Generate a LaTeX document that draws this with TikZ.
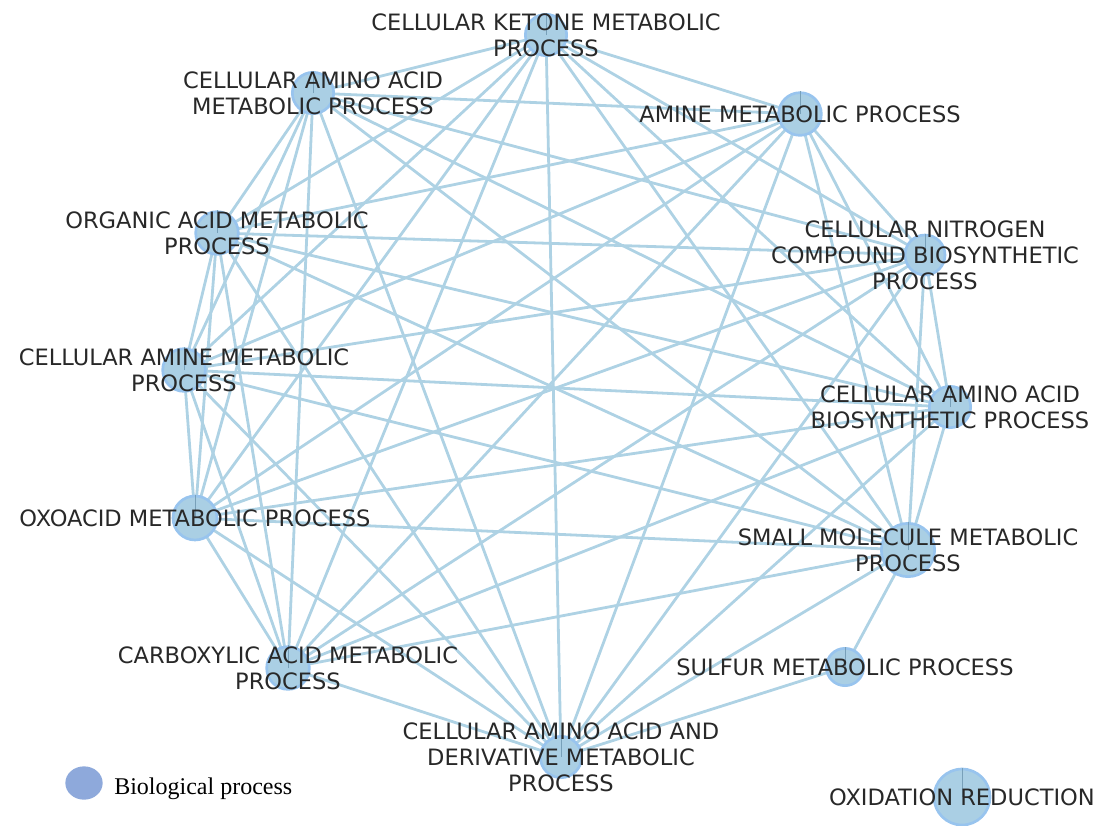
\documentclass[tikz,border=0pt]{standalone}
\usepackage{fontspec}
\setmainfont{DejaVu Sans}
\newfontfamily\legendfont{Liberation Serif}
\usetikzlibrary{shapes.geometric}
\definecolor{edgeblue}{RGB}{174,210,228}
\definecolor{nodefill}{RGB}{170,207,228}
\definecolor{noderim}{RGB}{152,196,238}
\definecolor{wedgeline}{RGB}{120,160,185}
\definecolor{labelgray}{RGB}{40,40,40}
\definecolor{legendblue}{RGB}{142,169,219}
\begin{document}
\begin{tikzpicture}[x=0.75pt,y=-0.75pt,
  edge/.style={draw=edgeblue, line width=2.1pt},
  term/.style={circle, fill=nodefill, draw=noderim, line width=2pt, inner sep=0pt, minimum size=#1},
  term/.default=31pt,
  wedge/.style={draw=wedgeline, line width=0.4pt},
  lbl/.style={align=center, text=labelgray, font=\fontsize{16.9}{19.5}\selectfont, inner sep=0pt}
]
\useasboundingbox (0,0) rectangle (1099,825);

% term positions
\coordinate (ket)  at (546,35);
\coordinate (aam)  at (313,93);
\coordinate (amn)  at (800,114);
\coordinate (org)  at (217,233);
\coordinate (nit)  at (925,255);
\coordinate (cam)  at (184,370);
\coordinate (bio)  at (950,407);
\coordinate (oxo)  at (195,518);
\coordinate (sml)  at (908,550);
\coordinate (carb) at (288,668);
\coordinate (sul)  at (845,667);
\coordinate (der)  at (561,757);
\coordinate (oxr)  at (962,797);

% fully connected core
\foreach \a [count=\i] in {ket,aam,amn,org,nit,cam,bio,oxo,sml,carb,der}{
  \foreach \b [count=\j] in {ket,aam,amn,org,nit,cam,bio,oxo,sml,carb,der}{
    \ifnum\j>\i \draw[edge] (\a) -- (\b); \fi
  }
}
\draw[edge] (sul) -- (sml);
\draw[edge] (sul) -- (der);

% term circles with pie divider
\foreach \n/\d in {ket/31pt,aam/31pt,amn/32pt,org/32pt,nit/30pt,cam/32pt,bio/31pt,oxo/33pt,sml/40pt,carb/32pt,sul/28pt,der/31pt,oxr/42pt}{
  \node[term=\d] (\n-c) at (\n) {};
  \draw[wedge] (\n-c.center) -- (\n-c.north);
}

% labels
\node[lbl] (ket-l)  at (ket)  {CELLULAR KETONE METABOLIC\\PROCESS};
\node[lbl] (aam-l)  at (aam)  {CELLULAR AMINO ACID\\METABOLIC PROCESS};
\node[lbl] (amn-l)  at (amn)  {AMINE METABOLIC PROCESS};
\node[lbl] (org-l)  at (org)  {ORGANIC ACID METABOLIC\\PROCESS};
\node[lbl] (nit-l)  at (nit)  {CELLULAR NITROGEN\\COMPOUND BIOSYNTHETIC\\PROCESS};
\node[lbl] (cam-l)  at (cam)  {CELLULAR AMINE METABOLIC\\PROCESS};
\node[lbl] (bio-l)  at (bio)  {CELLULAR AMINO ACID\\BIOSYNTHETIC PROCESS};
\node[lbl] (oxo-l)  at (oxo)  {OXOACID METABOLIC PROCESS};
\node[lbl] (sml-l)  at (sml)  {SMALL MOLECULE METABOLIC\\PROCESS};
\node[lbl] (carb-l) at (carb) {CARBOXYLIC ACID METABOLIC\\PROCESS};
\node[lbl] (sul-l)  at (sul)  {SULFUR METABOLIC PROCESS};
\node[lbl] (der-l)  at (der)  {CELLULAR AMINO ACID AND\\DERIVATIVE METABOLIC\\PROCESS};
\node[lbl] (oxr-l)  at (oxr)  {OXIDATION REDUCTION};

% legend
\node[ellipse, fill=legendblue, minimum width=28pt, minimum height=25pt, inner sep=0pt] (leg-dot) at (84,783) {};
\node[anchor=west, inner sep=0pt, font=\legendfont\fontsize{18}{20}\selectfont] (leg-txt) at (114,789) {Biological process};
\end{tikzpicture}
\end{document}
